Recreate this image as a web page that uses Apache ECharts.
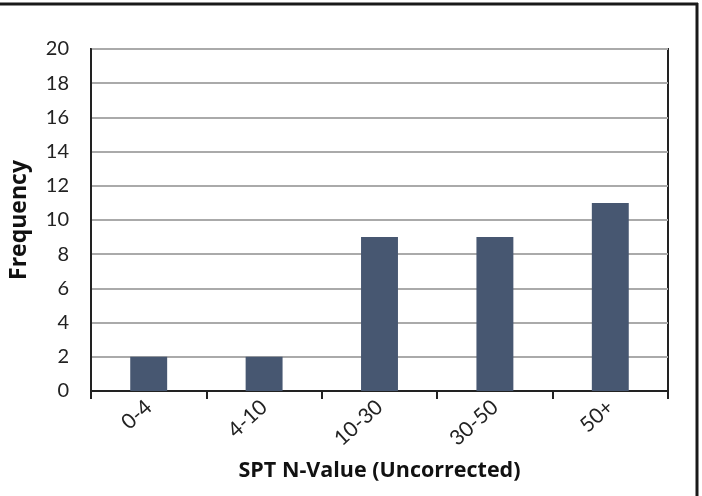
<!DOCTYPE html>
<html><head><meta charset="utf-8">
<script src="https://cdn.jsdelivr.net/npm/echarts@6/dist/echarts.min.js"></script>
<style>html,body{margin:0;padding:0;background:#fff}#c{width:702px;height:496px}</style>
</head><body><div id="c"></div>
<script>
const categories = ['0-4', '4-10', '10-30', '30-50', '50+'];
const frequency = [2, 2, 9, 9, 11];
const yTicks = { min: 0, max: 20, interval: 2 };

const chart = echarts.init(document.getElementById('c'));
chart.setOption({
  animation: false,
  backgroundColor: '#fff',
  grid: { left: 90, right: 34, top: 49, bottom: 105, show: true, borderColor: '#222', borderWidth: 2, backgroundColor: 'transparent' },
  graphic: [
    { type: 'line', shape: { x1: 0, y1: 4, x2: 698, y2: 4 }, style: { stroke: '#1a1a1a', lineWidth: 3 } },
    { type: 'line', shape: { x1: 697, y1: 3, x2: 697, y2: 496 }, style: { stroke: '#1a1a1a', lineWidth: 3 } }
  ],
  xAxis: {
    type: 'category',
    data: categories,
    name: 'SPT N-Value (Uncorrected)',
    nameLocation: 'middle',
    nameGap: 69,
    nameTextStyle: { fontFamily: 'Open Sans', fontWeight: 'bold', fontSize: 21.5, color: '#111' },
    axisLine: { show: true, lineStyle: { color: '#222', width: 2 } },
    axisTick: { show: true, alignWithLabel: false, length: 8, lineStyle: { color: '#222', width: 2 } },
    axisLabel: { rotate: 42, fontFamily: 'Lato', fontSize: 21, color: '#222', margin: 13 }
  },
  yAxis: {
    type: 'value',
    min: yTicks.min, max: yTicks.max, interval: yTicks.interval,
    name: 'Frequency',
    nameLocation: 'middle',
    nameGap: 60,
    nameTextStyle: { fontFamily: 'Open Sans', fontWeight: 'bold', fontSize: 23, color: '#111' },
    axisLine: { show: true, lineStyle: { color: '#222', width: 2 } },
    axisTick: { show: false },
    axisLabel: { fontFamily: 'Lato', fontSize: 20, color: '#222', margin: 22 },
    splitLine: { show: true, lineStyle: { color: '#aaaaaa', width: 2 } }
  },
  series: [{
    type: 'bar',
    data: frequency,
    barWidth: '32%',
    itemStyle: { color: '#475771' }
  }]
});
</script></body></html>
